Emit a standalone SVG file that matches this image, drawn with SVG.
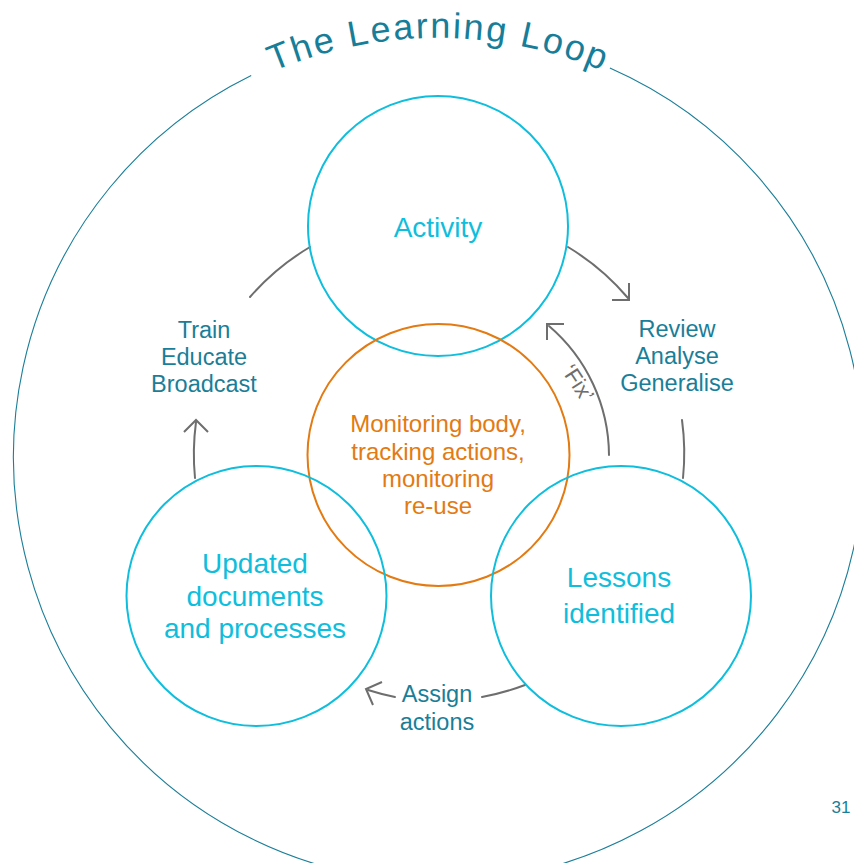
<svg xmlns="http://www.w3.org/2000/svg" width="854" height="863" viewBox="0 0 854 863">
<defs>
<style>
.bg{fill:#ffffff}
.outer{fill:none;stroke:#1a7e98;stroke-width:1.1}
.node{fill:none;stroke:#0fbedc;stroke-width:2}
.hub{fill:none;stroke:#e37a12;stroke-width:2}
.conn{fill:none;stroke:#6e6e6e;stroke-width:2;stroke-linecap:round}
.head{fill:none;stroke:#6e6e6e;stroke-width:2;stroke-linecap:butt;stroke-linejoin:miter}
text{font-family:"Liberation Sans",Arial,Helvetica,sans-serif;text-anchor:middle}
.title{font-size:36px;fill:#177e99;letter-spacing:2.2px}
.nodeText{font-size:28px;fill:#0fbedc}
.hubText{font-size:24px;fill:#e37a12}
.label{font-size:23.5px;fill:#1a7e98}
.fix{font-size:22px;fill:#6e6e6e}
.page{font-size:17px;fill:#1a7e98}
</style>
<path id="titleArc" d="M 70.4 250.5 A 425 425 0 0 1 806.6 250.5"/>
</defs>
<rect class="bg" x="0" y="0" width="854" height="863"/>

<g id="frame">
<path class="outer" d="M 609.9 68.1 A 425 425 0 1 1 251.2 75.5"/>
<text class="title"><textPath href="#titleArc" startOffset="50%">The Learning Loop</textPath></text>
</g>

<g id="connectors">
<path class="conn" d="M 250 297 A 245 245 0 0 1 310 247"/>
<path class="conn" d="M 568 247 A 245 245 0 0 1 628 298"/>
<polyline class="head" points="612,300 629,300 629,283"/>
<path class="conn" d="M 682 420 A 245 245 0 0 1 683 478"/>
<path class="conn" d="M 525 685 A 245 245 0 0 1 482 697"/>
<path class="conn" d="M 395 697 A 245 245 0 0 1 368 690"/>
<polyline class="head" points="382,682 366,689 373,705"/>
<path class="conn" d="M 195 478 A 245 245 0 0 1 196 422"/>
<polyline class="head" points="184,432 196,420 208,432"/>
<path class="conn" d="M 609 455 A 171 171 0 0 0 549 326"/>
<polyline class="head" points="564,324 547,324 547,340"/>
<g transform="translate(578,383) rotate(57)">
<text class="fix" x="0" y="7.5">‘Fix’</text>
</g>
</g>

<g id="activity">
<circle class="node" cx="438" cy="226" r="130"/>
<text class="nodeText" x="438" y="237">Activity</text>
</g>

<g id="monitoring">
<circle class="hub" cx="438.5" cy="455" r="131"/>
<text class="hubText" x="438" y="432">Monitoring body,</text>
<text class="hubText" x="438" y="460">tracking actions,</text>
<text class="hubText" x="438" y="487">monitoring</text>
<text class="hubText" x="438" y="514">re-use</text>
</g>

<g id="updated">
<circle class="node" cx="256.5" cy="596" r="130"/>
<text class="nodeText" x="255" y="573">Updated</text>
<text class="nodeText" x="255" y="605.5">documents</text>
<text class="nodeText" x="255" y="638">and processes</text>
</g>

<g id="lessons">
<circle class="node" cx="621" cy="596" r="130"/>
<text class="nodeText" x="619" y="587">Lessons</text>
<text class="nodeText" x="619" y="623">identified</text>
</g>

<g id="train">
<text class="label" x="204" y="338">Train</text>
<text class="label" x="204" y="365">Educate</text>
<text class="label" x="204" y="392">Broadcast</text>
</g>

<g id="review">
<text class="label" x="677" y="337">Review</text>
<text class="label" x="677" y="364">Analyse</text>
<text class="label" x="677" y="391">Generalise</text>
</g>

<g id="assign">
<text class="label" x="437" y="702">Assign</text>
<text class="label" x="437" y="730">actions</text>
</g>

<text class="page" x="841" y="813">31</text>
</svg>
